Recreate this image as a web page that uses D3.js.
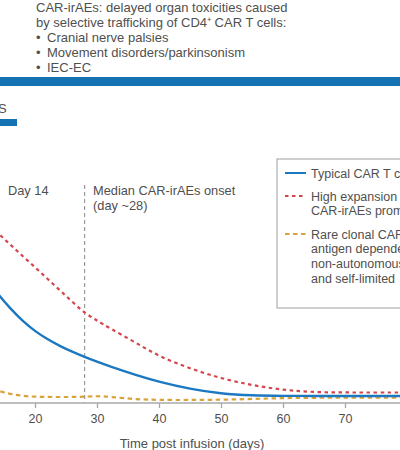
<!DOCTYPE html>
<html lang="en">
<head>
  <meta charset="UTF-8">
  <title>CAR T cell expansion and CAR-irAEs</title>
  <style>
    body { margin: 0; background: #fff; }
    svg text { font-family: "Liberation Sans", Arial, sans-serif; fill: #4f4f4f; }
  </style>
</head>
<body>
  <script src="https://d3js.org/d3.v7.min.js"></script>
  <div id="chart"></div>

  <script>
    // days post infusion, with the three curves (arbitrary units)
    const days     = [12, 14, 16, 18, 20, 22, 24, 26, 28, 30, 32, 36, 40, 45, 50, 55, 60, 65, 70, 75, 80]
    const typical  = [50, 43.6, 37.8, 32.8, 28.7, 25.5, 22.8, 20.5, 18.4, 16.5, 14.7, 11.4, 8.4, 5.6, 3.7, 3.0, 2.85, 2.8, 2.8, 2.8, 2.8]
    const highExp  = [73, 68, 63.4, 58.8, 54.3, 49.7, 45.1, 40.5, 36, 33, 30, 24.5, 18.6, 13.8, 9.8, 7.1, 5.2, 4.3, 4.2, 4.2, 4.2]
    const rare     = [7, 4.8, 3.6, 2.8, 2.5, 2.4, 2.4, 2.4, 2.5, 2.8, 2.5, 1.5, 1.2, 1.2, 1.3, 1.6, 2, 2.1, 2.1, 2.1, 2.1]
    const xTicks   = [20, 30, 40, 50, 60, 70]
    const onsetDay = 28

    const headerLines = ['CAR-irAEs: delayed organ toxicities caused', 'by selective trafficking of CD4\u207A CAR T cells:']
    const bullets = ['Cranial nerve palsies', 'Movement disorders/parkinsonism', 'IEC-EC']

    const legendItems = [
      { key: 'typical', color: '#1c78c0', dash: null, lines: ['Typical CAR T cell expansion'] },
      { key: 'high', color: '#d6454b', dash: '3.5,3.5', lines: ['High expansion of CAR T cells:', 'CAR-irAEs prominent'] },
      { key: 'rare', color: '#d9a33a', dash: '4.5,3.5', lines: ['Rare clonal CAR T cell expansion:', 'antigen dependent,', 'non-autonomous', 'and self-limited'] }
    ]

    const W = 400, H = 450
    const svg = d3.select('#chart')
      .append('svg')
      .attr('width', W)
      .attr('height', H)

    // header text
    const head = svg.append('g').style('font-size', '13px')
    headerLines.forEach((t, i) => {
      head.append('text').attr('x', 36).attr('y', 11.5 + i * 15).text(t)
    })
    bullets.forEach((t, i) => {
      const yy = 41.5 + i * 15
      head.append('text').attr('x', 36).attr('y', yy).text('\u2022')
      head.append('text').attr('x', 47).attr('y', yy).text(t)
    })

    // blue band and panel tab
    svg.append('rect').attr('x', 0).attr('y', 77).attr('width', W).attr('height', 9).attr('fill', '#1472b3')
    svg.append('text').attr('x', -2).attr('y', 113).style('font-size', '13px').text('S')
    svg.append('rect').attr('x', 0).attr('y', 119).attr('width', 17).attr('height', 7).attr('fill', '#1472b3')

    // scales
    const x = d3.scaleLinear().domain([20, 70]).range([35, 345])
    const y = d3.scaleLinear().domain([0, 100]).range([403, 153])

    // onset marker
    svg.append('line')
      .attr('x1', x(onsetDay)).attr('x2', x(onsetDay))
      .attr('y1', 185).attr('y2', y(0))
      .attr('stroke', '#9a9a9a').attr('stroke-width', 1.2)
      .attr('stroke-dasharray', '4,3')

    const ann = svg.append('g').style('font-size', '12.8px')
    ann.append('text').attr('x', 8).attr('y', 195).text('Day 14')
    ann.append('text').attr('x', 93).attr('y', 195).text('Median CAR-irAEs onset')
    ann.append('text').attr('x', 93).attr('y', 210).text('(day ~28)')

    // curves
    const line = d3.line()
      .x((d, i) => x(days[i]))
      .y(d => y(d))
      .curve(d3.curveBasis)

    const series = [
      { values: rare, item: legendItems[2], width: 2.2 },
      { values: highExp, item: legendItems[1], width: 2.2 },
      { values: typical, item: legendItems[0], width: 2.4 }
    ]
    svg.append('g')
      .selectAll('path')
      .data(series)
      .join('path')
      .attr('d', d => line(d.values))
      .attr('fill', 'none')
      .attr('stroke', d => d.item.color)
      .attr('stroke-width', d => d.width)
      .attr('stroke-dasharray', d => d.item.dash)

    // x axis
    const xAxis = svg.append('g')
      .attr('transform', `translate(0, ${y(0)})`)
      .call(d3.axisBottom(x).tickValues(xTicks).tickSize(5).tickPadding(6))
    xAxis.select('.domain').remove()
    xAxis.append('line')
      .attr('x1', 0).attr('x2', W)
      .attr('stroke', '#a8a8a8').attr('stroke-width', 1.5)
    xAxis.selectAll('.tick line').attr('stroke', '#a8a8a8').attr('stroke-width', 1.3)
    xAxis.selectAll('.tick text')
      .style('font-family', '"Liberation Sans", Arial, sans-serif')
      .style('font-size', '12.5px')
      .attr('fill', '#666')

    svg.append('text')
      .attr('x', 192).attr('y', 448)
      .attr('text-anchor', 'middle')
      .style('font-size', '13px')
      .text('Time post infusion (days)')

    // legend
    const lg = svg.append('g').attr('transform', 'translate(277, 159)')
    lg.append('rect')
      .attr('x', 0).attr('y', 0)
      .attr('width', 200).attr('height', 149)
      .attr('fill', '#fff')
      .attr('stroke', '#a0a0a0').attr('stroke-width', 1)

    const rowY = [14, 37, 75]
    legendItems.forEach((it, i) => {
      const g = lg.append('g').attr('transform', `translate(0, ${rowY[i]})`)
      g.append('line')
        .attr('x1', 8).attr('x2', 29)
        .attr('stroke', it.color).attr('stroke-width', 2)
        .attr('stroke-dasharray', it.dash)
      it.lines.forEach((t, j) => {
        g.append('text')
          .attr('x', 34).attr('y', 4.5 + j * 14.7)
          .style('font-size', '12.5px')
          .text(t)
      })
    })
  </script>
</body>
</html>
